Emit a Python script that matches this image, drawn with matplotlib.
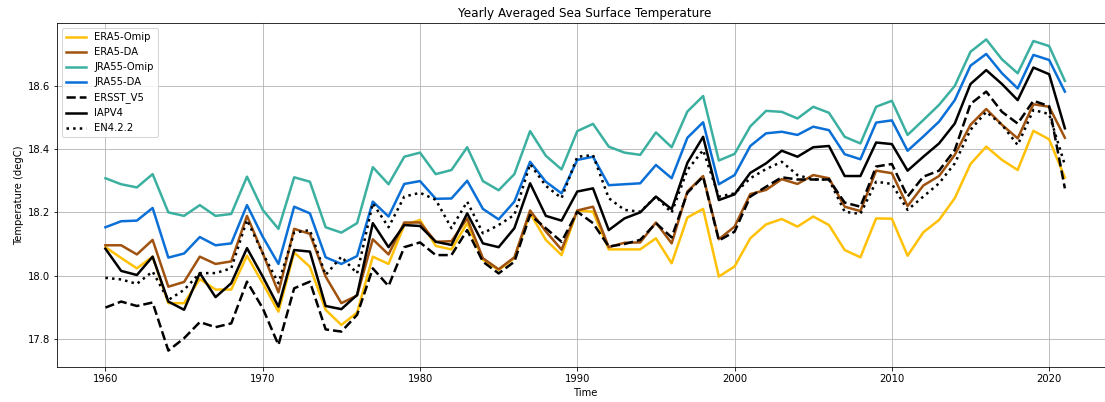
import matplotlib
matplotlib.use("Agg")
import matplotlib.pyplot as plt
import numpy as np

years = list(range(1960, 2022))

era5_omip = [18.090, 18.056, 18.023, 18.060, 17.913, 17.913, 17.989, 17.956, 17.956, 18.063,
             17.976, 17.886, 18.073, 18.028, 17.892, 17.844, 17.883, 18.060, 18.037, 18.160,
             18.176, 18.094, 18.083, 18.166, 18.050, 18.018, 18.055, 18.197, 18.113, 18.065,
             18.206, 18.202, 18.083, 18.083, 18.083, 18.118, 18.039, 18.184, 18.211, 17.997,
             18.029, 18.118, 18.162, 18.179, 18.155, 18.187, 18.160, 18.081, 18.058, 18.181,
             18.180, 18.063, 18.137, 18.176, 18.245, 18.353, 18.408, 18.366, 18.334, 18.458,
             18.431, 18.310]

era5_da = [18.096, 18.096, 18.067, 18.113, 17.965, 17.980, 18.060, 18.037, 18.045, 18.189,
           18.071, 17.947, 18.148, 18.132, 17.997, 17.913, 17.937, 18.115, 18.067, 18.168,
           18.168, 18.107, 18.109, 18.181, 18.055, 18.020, 18.058, 18.206, 18.140, 18.082,
           18.206, 18.218, 18.090, 18.104, 18.105, 18.168, 18.102, 18.266, 18.315, 18.115,
           18.155, 18.258, 18.271, 18.305, 18.290, 18.318, 18.308, 18.218, 18.204, 18.332,
           18.324, 18.220, 18.285, 18.315, 18.382, 18.477, 18.527, 18.477, 18.434, 18.542,
           18.534, 18.436]

jra55_omip = [18.308, 18.289, 18.279, 18.321, 18.200, 18.189, 18.223, 18.189, 18.195, 18.313,
              18.208, 18.148, 18.311, 18.297, 18.153, 18.136, 18.166, 18.343, 18.289, 18.376,
              18.389, 18.321, 18.334, 18.406, 18.299, 18.270, 18.321, 18.457, 18.379, 18.336,
              18.457, 18.480, 18.408, 18.389, 18.382, 18.453, 18.406, 18.519, 18.568, 18.364,
              18.385, 18.472, 18.521, 18.518, 18.497, 18.534, 18.515, 18.439, 18.418, 18.534,
              18.553, 18.445, 18.492, 18.540, 18.600, 18.708, 18.747, 18.684, 18.640, 18.742,
              18.726, 18.616]

jra55_da = [18.153, 18.172, 18.174, 18.214, 18.057, 18.070, 18.122, 18.096, 18.102, 18.223,
            18.123, 18.037, 18.218, 18.197, 18.058, 18.037, 18.062, 18.234, 18.187, 18.290,
            18.299, 18.243, 18.244, 18.300, 18.211, 18.178, 18.234, 18.360, 18.297, 18.260,
            18.366, 18.376, 18.286, 18.289, 18.292, 18.350, 18.308, 18.436, 18.485, 18.289,
            18.318, 18.410, 18.450, 18.455, 18.445, 18.471, 18.460, 18.384, 18.368, 18.484,
            18.491, 18.395, 18.440, 18.487, 18.555, 18.664, 18.701, 18.640, 18.592, 18.698,
            18.682, 18.582]

ersst_v5 = [17.899, 17.918, 17.904, 17.915, 17.763, 17.802, 17.853, 17.837, 17.849, 17.981,
            17.897, 17.781, 17.960, 17.981, 17.830, 17.823, 17.876, 18.023, 17.967, 18.090,
            18.105, 18.065, 18.065, 18.144, 18.044, 18.007, 18.044, 18.192, 18.150, 18.107,
            18.202, 18.166, 18.092, 18.100, 18.113, 18.166, 18.121, 18.262, 18.313, 18.111,
            18.139, 18.250, 18.281, 18.311, 18.304, 18.304, 18.304, 18.231, 18.218, 18.345,
            18.353, 18.250, 18.313, 18.332, 18.397, 18.543, 18.582, 18.518, 18.481, 18.553,
            18.536, 18.276]

iapv4 = [18.085, 18.015, 18.002, 18.060, 17.918, 17.892, 18.008, 17.932, 17.976, 18.087,
         17.997, 17.902, 18.081, 18.076, 17.904, 17.894, 17.939, 18.166, 18.090, 18.160,
         18.157, 18.107, 18.097, 18.197, 18.102, 18.090, 18.150, 18.292, 18.189, 18.174,
         18.266, 18.276, 18.144, 18.181, 18.200, 18.250, 18.210, 18.357, 18.439, 18.239,
         18.257, 18.325, 18.355, 18.395, 18.376, 18.406, 18.410, 18.315, 18.315, 18.421,
         18.416, 18.332, 18.376, 18.418, 18.481, 18.606, 18.650, 18.606, 18.555, 18.658,
         18.637, 18.466]

en422 = [17.993, 17.988, 17.974, 18.013, 17.923, 17.955, 18.008, 18.008, 18.023, 18.176,
         18.071, 17.976, 18.136, 18.144, 18.002, 18.060, 18.007, 18.229, 18.153, 18.250,
         18.262, 18.240, 18.150, 18.234, 18.134, 18.160, 18.192, 18.353, 18.284, 18.245,
         18.376, 18.381, 18.245, 18.208, 18.202, 18.250, 18.199, 18.334, 18.397, 18.250,
         18.260, 18.308, 18.337, 18.360, 18.318, 18.304, 18.304, 18.202, 18.195, 18.297,
         18.290, 18.208, 18.250, 18.292, 18.355, 18.461, 18.518, 18.477, 18.413, 18.524,
         18.511, 18.350]

series = [
    ("ERA5-Omip", era5_omip, "#FFC107", "-"),
    ("ERA5-DA", era5_da, "#A0520F", "-"),
    ("JRA55-Omip", jra55_omip, "#3CB0A0", "-"),
    ("JRA55-DA", jra55_da, "#0A6FD6", "-"),
    ("ERSST_V5", ersst_v5, "black", "--"),
    ("IAPV4", iapv4, "black", "-"),
    ("EN4.2.2", en422, "black", ":"),
]

fig = plt.figure(figsize=(1105 / 72, 402 / 72), dpi=72)
ax = fig.add_axes([57.3 / 1105, 35.3 / 402, (1113 - 57.3) / 1105, (366.7 - 23.3) / 402])

for name, vals, color, ls in series:
    ax.plot(years, vals, color=color, linestyle=ls, linewidth=2.5, label=name)

ax.set_xlim(1956.94, 2024.06)
ax.set_ylim(17.712, 18.798)
ax.set_yticks([17.8, 18.0, 18.2, 18.4, 18.6])
ax.set_xticks([1960, 1970, 1980, 1990, 2000, 2010, 2020])
ax.grid(True)
ax.set_title("Yearly Averaged Sea Surface Temperature")
ax.set_xlabel("Time")
ax.set_ylabel("Temperature (degC)")
ax.legend(loc="upper left")

fig.savefig("out.png", dpi=72)
